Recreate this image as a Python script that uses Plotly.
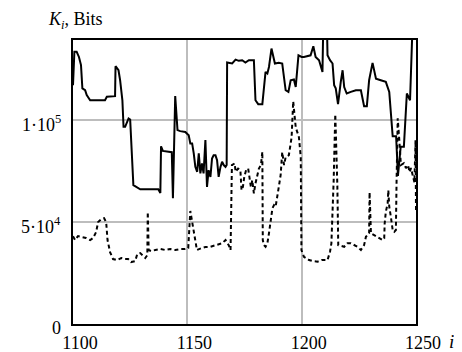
import plotly.graph_objects as go

# Solid series (upper curve): index i and K_i in thousands of bits
solid_i = [1100.0, 1100.6, 1101.6, 1102.6, 1103.5, 1104.1, 1105.3, 1106.0, 1107.5, 1114.0,
           1114.8, 1118.4, 1118.6, 1119.9, 1120.6, 1121.6, 1122.1, 1122.8, 1124.3, 1125.0,
           1126.4, 1127.9, 1129.4, 1133.8, 1137.3, 1138.2, 1138.5, 1139.3, 1142.5, 1143.2,
           1143.7, 1144.7, 1145.7, 1146.9, 1149.1, 1150.6, 1151.3, 1152.1, 1152.8, 1153.5,
           1154.3, 1155.0, 1155.7, 1156.4, 1157.1, 1157.9, 1158.6, 1159.3, 1160.1, 1160.8,
           1161.5, 1162.3, 1163.0, 1163.7, 1164.5, 1165.2, 1165.9, 1166.7, 1167.2, 1167.4,
           1169.6, 1171.1, 1172.5, 1174.0, 1175.4, 1176.9, 1179.1, 1179.8, 1181.0, 1182.8,
           1184.2, 1185.0, 1185.7, 1186.8, 1188.3, 1190.0, 1191.5, 1193.0, 1194.2, 1195.2,
           1196.6, 1197.4, 1198.6, 1200.0, 1201.0, 1202.5, 1203.9, 1205.1, 1206.1, 1207.6,
           1209.1, 1209.5, 1211.0, 1211.3, 1212.4, 1213.5, 1214.2, 1214.9, 1215.9, 1217.1,
           1217.9, 1218.6, 1219.7, 1221.5, 1223.7, 1225.9, 1227.3, 1228.5, 1229.5, 1231.0,
           1232.5, 1234.6, 1236.8, 1238.3, 1239.8, 1241.3, 1242.1, 1243.3, 1244.7, 1246.0,
           1247.4, 1248.6, 1250.0]
solid_k = [116.9, 133.2, 133.2, 130.7, 126.7, 115.3, 114.4, 112.0, 109.5, 109.5,
           111.2, 111.5, 126.2, 124.2, 119.3, 109.5, 96.5, 96.5, 100.6, 100.1,
           68.0, 67.1, 65.9, 65.9, 65.9, 64.1, 87.0, 84.7, 84.3, 84.1,
           61.6, 111.6, 94.9, 94.4, 94.0, 92.4, 88.4, 88.4, 83.5, 76.9,
           74.5, 83.5, 73.7, 78.6, 73.7, 90.0, 67.1, 75.3, 72.0, 81.0,
           82.6, 82.6, 80.2, 72.0, 76.9, 79.4, 77.8, 76.9, 77.8, 128.0,
           127.5, 129.4, 128.8, 129.1, 128.0, 129.1, 129.1, 109.5, 107.6, 107.6,
           123.4, 122.6, 125.8, 134.8, 127.5, 127.8, 127.5, 114.4, 113.6, 119.3,
           119.7, 116.0, 131.5, 130.7, 130.7, 131.1, 131.5, 135.9, 130.7, 129.1,
           123.4, 150.0, 150.0, 131.5, 129.1, 127.5, 116.9, 115.3, 107.6, 118.5,
           124.2, 116.0, 112.8, 113.6, 114.4, 114.4, 106.6, 106.6, 119.3, 127.8,
           120.1, 119.3, 118.5, 113.6, 91.9, 91.9, 72.5, 86.7, 86.7, 112.8,
           109.5, 150.0, 150.0]

# Dashed series (lower curve)
dash_i = [1100.0, 1100.9, 1102.2, 1103.9, 1105.7, 1107.5, 1108.8, 1110.1, 1111.0, 1112.3,
          1113.6, 1114.5, 1115.1, 1116.2, 1117.5, 1119.3, 1121.1, 1122.8, 1124.1, 1125.4,
          1127.2, 1128.1, 1129.4, 1130.7, 1131.6, 1132.5, 1132.7, 1133.1, 1134.2, 1136.0,
          1138.2, 1140.4, 1142.5, 1144.7, 1146.9, 1149.1, 1150.4, 1151.3, 1152.2, 1153.1,
          1154.2, 1156.4, 1157.9, 1160.1, 1162.3, 1165.2, 1166.7, 1168.1, 1168.9, 1169.5,
          1170.7, 1171.1, 1172.2, 1173.2, 1173.7, 1174.3, 1174.9, 1175.7, 1176.6, 1177.2,
          1177.8, 1178.4, 1179.1, 1179.8, 1180.6, 1181.3, 1182.2, 1182.8, 1183.0, 1183.5,
          1184.2, 1185.0, 1185.7, 1186.4, 1187.2, 1187.9, 1188.6, 1190.0, 1190.8, 1191.5,
          1192.3, 1193.0, 1194.4, 1195.6, 1196.3, 1197.4, 1198.8, 1199.6, 1199.9, 1201.0,
          1203.2, 1204.8, 1206.9, 1208.8, 1211.3, 1212.4, 1213.0, 1214.0, 1214.7, 1215.6,
          1216.0, 1218.6, 1220.0, 1221.5, 1222.9, 1224.4, 1225.9, 1227.3, 1228.1, 1229.5,
          1229.7, 1230.3, 1231.7, 1233.9, 1235.4, 1236.1, 1236.3, 1236.8, 1237.6, 1237.9,
          1238.3, 1239.0, 1239.8, 1240.5, 1241.2, 1241.5, 1242.0, 1242.7, 1243.4, 1244.7,
          1245.6, 1246.5, 1247.2, 1247.8, 1248.6, 1249.3, 1249.8, 1250.0]
dash_k = [43.0, 41.1, 43.0, 42.5, 42.1, 41.1, 42.1, 45.0, 49.9, 51.3,
          51.8, 49.9, 41.1, 35.2, 31.8, 31.3, 32.3, 31.8, 31.8, 30.3,
          30.8, 34.2, 34.7, 33.3, 32.3, 33.7, 54.8, 36.2, 35.7, 36.2,
          36.7, 36.2, 36.7, 36.2, 36.7, 36.7, 37.2, 55.3, 49.9, 43.0,
          36.2, 37.2, 37.7, 37.8, 38.6, 39.5, 41.1, 38.6, 36.2, 77.8,
          78.6, 74.5, 76.1, 75.3, 65.5, 67.1, 72.0, 75.3, 76.1, 72.0,
          67.1, 70.4, 63.9, 68.8, 73.7, 76.1, 77.8, 84.3, 41.1, 38.6,
          37.8, 39.5, 44.4, 50.9, 56.6, 58.2, 57.4, 67.1, 72.9, 84.1,
          77.8, 81.7, 82.6, 91.4, 109.0, 96.3, 91.4, 81.7, 36.2, 32.9,
          31.3, 30.8, 30.5, 31.3, 31.3, 35.4, 39.5, 70.4, 102.7, 68.0,
          38.6, 37.8, 39.5, 39.5, 38.6, 37.8, 36.2, 38.6, 42.7, 44.4,
          64.5, 44.4, 43.5, 41.9, 41.1, 41.9, 49.2, 54.9, 59.0, 65.5,
          57.4, 52.5, 46.0, 45.1, 46.0, 69.6, 100.7, 90.0, 77.8, 78.7,
          76.3, 77.8, 74.3, 76.3, 72.9, 69.4, 90.0, 55.7]

x_ticks = [1100, 1150, 1200, 1250]
y_ticks = [0, 50000, 100000]
y_tick_text = ["0", "5\u00b710<sup>4</sup>", "1\u00b710<sup>5</sup>"]

SERIF = "Liberation Serif, Times New Roman, serif"

fig = go.Figure()
fig.add_trace(go.Scatter(x=solid_i, y=[v * 1000 for v in solid_k], mode="lines",
                         line=dict(color="black", width=2), showlegend=False))
fig.add_trace(go.Scatter(x=dash_i, y=[v * 1000 for v in dash_k], mode="lines",
                         line=dict(color="black", width=2, dash="4px,3px"), showlegend=False))

annotations = [
    dict(text="<i>K<sub>i</sub></i>, Bits", xref="paper", yref="paper",
         x=-0.079, y=1.067, xanchor="left", yanchor="middle", showarrow=False,
         font=dict(family=SERIF, size=18)),
    dict(text="<i>i</i>", xref="paper", yref="paper",
         x=1.103, y=-0.06, xanchor="center", yanchor="middle", showarrow=False,
         font=dict(family=SERIF, size=19)),
]
for v, t in zip(y_ticks, y_tick_text):
    annotations.append(dict(text=t, xref="paper", yref="y", x=-0.03, y=v,
                            xanchor="right", yanchor="middle", yshift=-4,
                            showarrow=False, font=dict(family=SERIF, size=18)))

fig.update_layout(
    width=454, height=344,
    margin=dict(l=65, r=46, t=32, b=28),
    paper_bgcolor="white", plot_bgcolor="white",
    font=dict(family=SERIF, size=18, color="black"),
    xaxis=dict(range=[1100, 1250], tickvals=x_ticks, ticktext=[str(t) for t in x_ticks],
               showgrid=True, gridcolor="#bdbdbd", gridwidth=1.5,
               showline=True, linecolor="black", linewidth=2, mirror=True,
               ticks="", zeroline=False, ticklabelshift=7, ticklabelstandoff=1,
               automargin=False),
    yaxis=dict(range=[0, 139000], tickvals=y_ticks, showticklabels=False,
               showgrid=True, gridcolor="#bdbdbd", gridwidth=1.5,
               showline=True, linecolor="black", linewidth=2, mirror=True,
               ticks="", zeroline=False, automargin=False),
    annotations=annotations,
)

fig.write_html("out.html")
